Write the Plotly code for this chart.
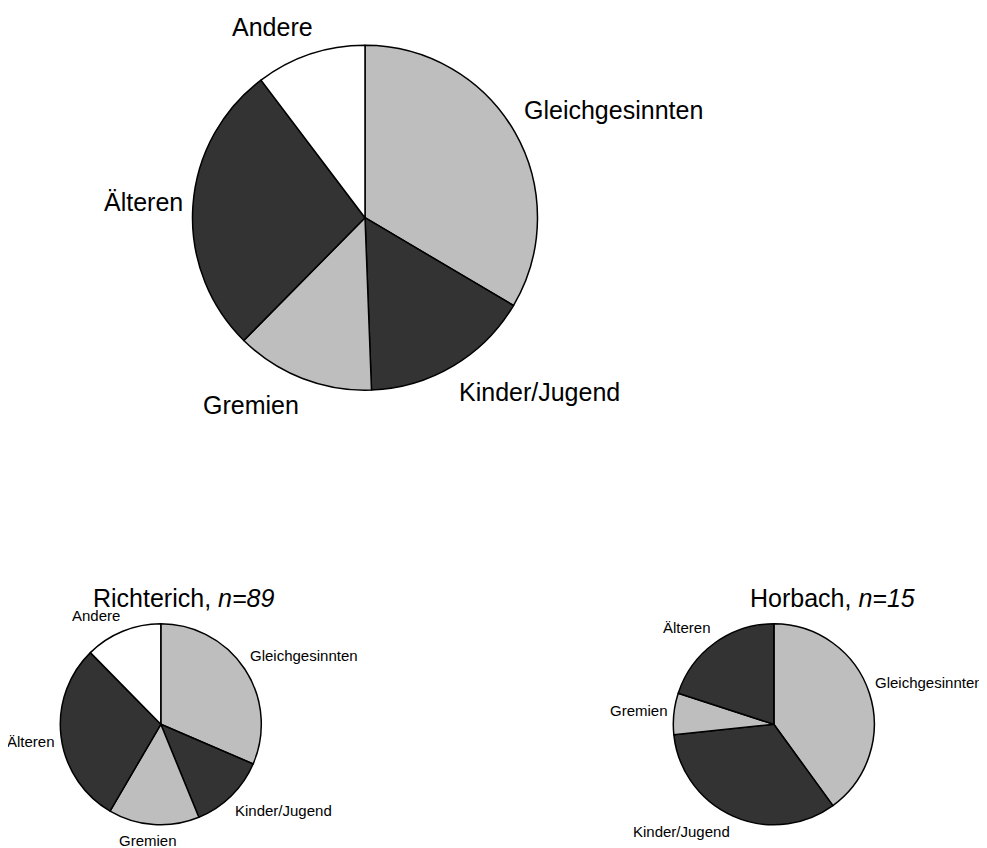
import math
import plotly.graph_objects as go

# the page body has an 8px margin, so the figure starts at (8, 8)
OFF = 8
W, H = 987 - OFF, 848 - OFF

# data
kategorien = ["Gleichgesinnten", "Kinder/Jugend", "Gremien", "Älteren", "Andere"]
gesamt = [33.5, 15.9, 13.0, 27.3, 10.3]      # Anteile in %
richterich = [28, 11, 13, 26, 11]             # n=89
horbach = [6, 5, 1, 3, 0]                     # n=15
farben = ["#bebebe", "#333333", "#bebebe", "#333333", "#ffffff"]

FONT = "Liberation Sans, Arial, Helvetica, sans-serif"

# pie boxes in page pixels: centre x, centre y, radius, label size
boxes = {
    "gesamt": (365, 217.7, 172.5, 25),
    "richterich": (160.8, 724.3, 100.5, 15),
    "horbach": (773.8, 724.3, 100.5, 15),
}


def px2paper(px, py):
    return (px - OFF) / W, 1 - (py - OFF) / H


def domain(cx, cy, r):
    x0, y0 = px2paper(cx - r, cy + r)
    x1, y1 = px2paper(cx + r, cy - r)
    return dict(x=[x0, x1], y=[y0, y1])


def pie(vals, box):
    cx, cy, r, _ = box
    return go.Pie(
        labels=kategorien, values=vals, sort=False, direction="clockwise",
        rotation=0, textinfo="none", hoverinfo="label+value",
        marker=dict(colors=farben, line=dict(color="black", width=1.5)),
        domain=domain(cx, cy, r), showlegend=False,
    )


def label_annotations(vals, box):
    # labels just outside the pie at each slice's middle angle,
    # sliding the text box away from the centre depending on the angle
    cx, cy, r, size = box
    total = float(sum(vals))
    out = []
    cum = 0.0
    for lab, v in zip(kategorien, vals):
        if v == 0:
            continue
        mid = (cum + v / 2) / total * 2 * math.pi
        cum += v
        s, c = math.sin(mid), math.cos(mid)
        fx = max(-1, min(1, 2.9 * s))
        fy = max(-1, min(1, 2.9 * c))
        if fx >= 1:
            xa, xs = "left", 0
        elif fx <= -1:
            xa, xs = "right", 0
        else:
            xa, xs = "center", 0.25 * size * len(lab) * fx
        x, y = px2paper(cx + 1.06 * r * s, cy - 1.06 * r * c)
        out.append(dict(
            x=x, y=y, xref="paper", yref="paper", text=lab,
            showarrow=False, xanchor=xa, yanchor="middle",
            xshift=xs, yshift=0.68 * size * fy, borderpad=0, borderwidth=0,
            font=dict(size=size, color="black", family=FONT),
        ))
    return out


fig = go.Figure()
fig.add_trace(pie(gesamt, boxes["gesamt"]))
fig.add_trace(pie(richterich, boxes["richterich"]))
fig.add_trace(pie(horbach, boxes["horbach"]))

annots = []
for vals, key in [(gesamt, "gesamt"), (richterich, "richterich"), (horbach, "horbach")]:
    annots += label_annotations(vals, boxes[key])

# sub titles
tx, ty = px2paper(183, 598)
annots.append(dict(x=tx, y=ty, xref="paper", yref="paper",
                   text="Richterich, <i>n=89</i>", showarrow=False,
                   xanchor="center", yanchor="middle",
                   font=dict(size=25, color="black", family=FONT)))
tx, ty = px2paper(832, 598)
annots.append(dict(x=tx, y=ty, xref="paper", yref="paper",
                   text="Horbach, <i>n=15</i>", showarrow=False,
                   xanchor="center", yanchor="middle",
                   font=dict(size=25, color="black", family=FONT)))

fig.update_layout(
    width=W, height=H,
    margin=dict(l=0, r=0, t=0, b=0),
    paper_bgcolor="white", plot_bgcolor="white",
    annotations=annots,
    font=dict(family=FONT, color="black"),
)

fig.write_html("out.html")
